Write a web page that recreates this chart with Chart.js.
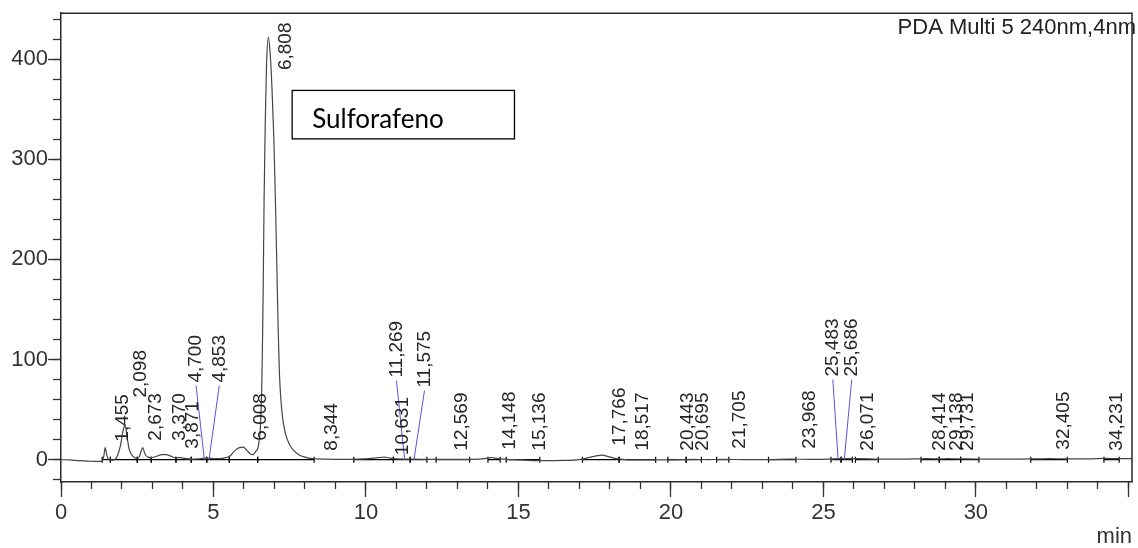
<!DOCTYPE html>
<html>
<head>
<meta charset="utf-8">
<script src="https://cdn.jsdelivr.net/npm/chart.js@4.4.1/dist/chart.umd.min.js"></script>
<style>
html, body { margin: 0; padding: 0; background: #fff; }
canvas { display: block; }
</style>
</head>
<body>
<canvas id="cromatograma" width="1138" height="548"></canvas>
<script>
// señal del detector PDA: [tiempo (min), mAU]
const trace = [
    [0, 0], [0.3, -0.3], [0.6, -1.0], [0.9, -1.5], [1.2, -1.8], [1.35, -1.5],
    [1.40, 3], [1.45, 12], [1.49, 6], [1.55, 0.5], [1.65, -0.5], [1.75, 0],
    [1.85, 4], [1.95, 14], [2.03, 28], [2.10, 35], [2.16, 24], [2.24, 10],
    [2.34, 4], [2.45, 1.5], [2.55, 2], [2.62, 8], [2.68, 12], [2.75, 6],
    [2.85, 2.5], [2.95, 2], [3.1, 3], [3.3, 5], [3.45, 5], [3.6, 3.5],
    [3.75, 2], [3.9, 2], [4.1, 1], [4.3, 0.5], [4.5, 0.8], [4.7, 1.5],
    [4.85, 1.5], [5.0, 1], [5.2, 1], [5.4, 2], [5.55, 4], [5.7, 9],
    [5.85, 12], [5.98, 12.5], [6.1, 9], [6.2, 6], [6.3, 5], [6.38, 8],
    [6.48, 15], [6.55, 40], [6.60, 100], [6.63, 170], [6.66, 260], [6.70, 340],
    [6.74, 395], [6.80, 422], [6.86, 405], [6.92, 370], [6.98, 320], [7.03, 260],
    [7.08, 190], [7.12, 132], [7.16, 88], [7.21, 60], [7.28, 39], [7.37, 25],
    [7.48, 16], [7.62, 9.5], [7.8, 5], [8.0, 2.5], [8.25, 1], [8.7, 0.5], [9.2, 0.3],
    [9.7, 0.5], [10.1, 1], [10.4, 2], [10.6, 2.5], [10.8, 1.5], [11.0, 0.8],
    [11.3, 0.6], [11.6, 0.5], [12.0, 0.3], [12.6, 0.2], [13.2, 0.3], [13.8, 0.8],
    [14.1, 2], [14.4, 0.8], [14.8, 0], [15.2, -0.5], [15.8, -1], [16.5, -0.8],
    [17.0, 0], [17.3, 2], [17.55, 3.8], [17.75, 4.5], [17.95, 3], [18.2, 1],
    [18.5, 0], [19.0, -0.3], [19.6, -0.3], [20.4, 0], [20.7, 0.3], [21.2, 0],
    [21.7, 0.3], [22.5, 0], [23.2, 0], [23.9, 0.5], [24.6, 0.3], [25.2, 0.5],
    [25.5, 1], [25.7, 1], [26.1, 1], [26.8, 0.6], [27.6, 0.5], [28.4, 1],
    [28.8, 0.8], [29.1, 1], [29.4, 0.8], [29.7, 0.8], [30.3, 0.5], [31.2, 0.5],
    [32.0, 0.8], [32.4, 1], [33.0, 0.8], [33.7, 0.8], [34.2, 1.2], [34.7, 1],
    [35.12, 1]
];

// líneas base de integración [inicio, fin] (min)
const integrationBaselines = [
    [1.35, 1.62], [1.62, 2.50], [2.50, 2.96], [2.96, 3.77], [3.77, 4.27],
    [4.27, 4.78], [4.78, 5.52], [5.52, 6.45], [6.45, 8.30], [9.6, 10.9],
    [10.9, 11.45], [11.45, 12.0], [12.3, 13.4], [14.0, 14.4], [14.6, 15.7],
    [17.1, 18.3], [18.3, 19.5], [19.9, 20.5], [20.5, 21.0], [21.5, 21.9],
    [23.2, 24.1], [25.25, 25.58], [25.58, 25.95], [26.05, 26.8], [28.2, 28.8],
    [28.8, 29.5], [29.5, 30.1], [31.8, 33.0], [34.2, 34.7]
];

const peakNames = ['1,455', '2,098', '2,673', '3,370', '3,871', '4,700', '4,853', '6,008',
    '6,808', '8,344', '10,631', '11,269', '11,575', '12,569', '14,148', '15,136',
    '17,766', '18,517', '20,443', '20,695', '21,705', '23,968', '25,483', '25,686',
    '26,071', '28,414', '29,138', '29,731', '32,405', '34,231'];
const peakTimes = [1.455, 2.098, 2.673, 3.370, 3.871, 4.700, 4.853, 6.008,
    6.808, 8.344, 10.631, 11.269, 11.575, 12.569, 14.148, 15.136,
    17.766, 18.517, 20.443, 20.695, 21.705, 23.968, 25.483, 25.686,
    26.071, 28.414, 29.138, 29.731, 32.405, 34.231];
// dónde se escribe cada etiqueta (min) y su base (mAU)
const labelTimes = [2.02, 2.63, 3.12, 3.88, 4.31, 4.43, 5.19, 6.56,
    7.36, 8.87, 11.21, 11.00, 11.92, 13.14, 14.71, 15.70,
    18.32, 19.09, 20.55, 21.05, 22.26, 24.55, 25.31, 25.93,
    26.46, 28.82, 29.37, 29.75, 32.87, 34.62];
const labelLevels = [18, 62, 19, 19, 11, 77, 77, 19,
    389, 9, 4.5, 82, 72, 9, 10, 9,
    14, 9, 9, 9, 11, 11, 83, 83,
    9, 9, 9, 9, 10, 9];
const leaderPeaks = ['4,700', '4,853', '11,269', '11,575', '25,483', '25,686'];

const xTickLabels = ['0', '5', '10', '15', '20', '25', '30'];
const yTickLabels = ['0', '100', '200', '300', '400'];

const FONT = '"Liberation Sans", Arial, sans-serif';
Chart.defaults.font.family = FONT;
Chart.defaults.color = '#333';

const baselinePoints = [];
integrationBaselines.forEach(([a, b]) => {
    baselinePoints.push({ x: a, y: 0 }, { x: b, y: 0 }, { x: b, y: null });
});

const chromPlugin = {
    id: 'chromPlugin',
    afterDatasetsDraw(chart) {
        const { ctx, scales: { x, y } } = chart;
        ctx.save();
        // líneas guía azules
        ctx.strokeStyle = '#5656d6';
        ctx.lineWidth = 1;
        peakNames.forEach((name, i) => {
            if (!leaderPeaks.includes(name)) return;
            ctx.beginPath();
            ctx.moveTo(x.getPixelForValue(labelTimes[i]), y.getPixelForValue(labelLevels[i]) + 3);
            ctx.lineTo(x.getPixelForValue(peakTimes[i]), y.getPixelForValue(0));
            ctx.stroke();
        });
        // etiquetas de tiempo de retención
        ctx.font = '19px ' + FONT;
        ctx.fillStyle = '#262626';
        ctx.textAlign = 'left';
        ctx.textBaseline = 'middle';
        peakNames.forEach((name, i) => {
            ctx.save();
            ctx.translate(x.getPixelForValue(labelTimes[i]), y.getPixelForValue(labelLevels[i]));
            ctx.rotate(-Math.PI / 2);
            ctx.fillText(name, 0, 0);
            ctx.restore();
        });
        ctx.restore();
    },
    afterDraw(chart) {
        const { ctx, chartArea: area, scales: { x, y } } = chart;
        ctx.save();
        // marco superior y derecho
        ctx.strokeStyle = '#2b2b2b';
        ctx.lineWidth = 1.5;
        ctx.beginPath();
        ctx.moveTo(area.left, area.top);
        ctx.lineTo(area.right, area.top);
        ctx.lineTo(area.right, area.bottom);
        ctx.stroke();

        ctx.font = '22px ' + FONT;
        ctx.fillStyle = '#222';
        ctx.textAlign = 'right';
        ctx.textBaseline = 'alphabetic';
        ctx.fillText('PDA Multi 5 240nm,4nm', area.right + 4, area.top + 21);

        // recuadro Sulforafeno
        const bx1 = x.getPixelForValue(7.58), bx2 = x.getPixelForValue(14.87);
        const by1 = y.getPixelForValue(368.7), by2 = y.getPixelForValue(320.3);
        ctx.strokeStyle = '#000';
        ctx.lineWidth = 1.3;
        ctx.strokeRect(bx1, by1, bx2 - bx1, by2 - by1);
        ctx.font = '26px Lato, "Open Sans", sans-serif';
        ctx.fillStyle = '#000';
        ctx.textAlign = 'left';
        ctx.fillText('Sulforafeno', bx1 + 20, by2 - 11);
        ctx.restore();
    }
};

new Chart(document.getElementById('cromatograma'), {
    type: 'line',
    data: {
        datasets: [
            {
                label: 'PDA',
                data: trace.map(([t, v]) => ({ x: t, y: v })),
                borderColor: '#454545',
                borderWidth: 1.2,
                pointRadius: 0,
                cubicInterpolationMode: 'monotone',
                xAxisID: 'x',
                yAxisID: 'y'
            },
            {
                label: 'Integración',
                data: baselinePoints,
                borderColor: '#000',
                borderWidth: 1.2,
                pointStyle: 'line',
                pointRotation: 90,
                pointRadius: 3,
                pointBorderColor: '#000',
                pointBorderWidth: 1.2,
                spanGaps: false,
                xAxisID: 'x',
                yAxisID: 'y'
            }
        ]
    },
    options: {
        responsive: false,
        animation: false,
        devicePixelRatio: 1,
        layout: { padding: { top: 8, right: 6, left: 0, bottom: 0 } },
        plugins: {
            legend: { display: false },
            tooltip: { enabled: false }
        },
        scales: {
            x: {
                type: 'linear',
                position: 'bottom',
                weight: 1,
                min: 0,
                max: 35.12,
                afterFit: (s) => { s.height = 66; },
                border: { display: true, color: '#2b2b2b', width: 1.5 },
                grid: { drawOnChartArea: false, drawTicks: true, tickLength: 15, tickColor: '#333', tickWidth: 1.3 },
                ticks: {
                    stepSize: 5,
                    includeBounds: false,
                    padding: 3,
                    maxRotation: 0,
                    autoSkip: false,
                    color: '#333',
                    font: { size: 22 },
                    callback: (v) => xTickLabels.includes(String(v)) ? String(v) : ''
                },
                title: {
                    display: true,
                    text: 'min',
                    align: 'end',
                    color: '#333',
                    font: { size: 22, lineHeight: 1 },
                    padding: { top: 0, bottom: 0 }
                }
            },
            xMinor: {
                type: 'linear',
                position: 'bottom',
                weight: 0,
                min: 0,
                max: 35.12,
                afterFit: (s) => { s.height = 0; },
                border: { display: false },
                grid: { drawOnChartArea: false, drawTicks: true, tickLength: 7, tickColor: '#333', tickWidth: 1.3 },
                ticks: { stepSize: 1, includeBounds: false, display: false }
            },
            y: {
                type: 'linear',
                position: 'left',
                weight: 1,
                min: -22.3,
                max: 445.8,
                afterFit: (s) => { s.width = 61; },
                border: { display: true, color: '#2b2b2b', width: 1.5 },
                grid: { drawOnChartArea: false, drawTicks: true, tickLength: 13, tickColor: '#333', tickWidth: 1.3 },
                ticks: {
                    stepSize: 100,
                    includeBounds: false,
                    padding: 0,
                    color: '#333',
                    font: { size: 22 },
                    callback: (v) => yTickLabels.includes(String(v)) ? String(v) : ''
                }
            },
            yMinor: {
                type: 'linear',
                position: 'left',
                weight: 0,
                min: -22.3,
                max: 445.8,
                afterFit: (s) => { s.width = 0; },
                border: { display: false },
                grid: { drawOnChartArea: false, drawTicks: true, tickLength: 8, tickColor: '#333', tickWidth: 1.3 },
                ticks: { stepSize: 20, includeBounds: false, display: false }
            }
        }
    },
    plugins: [chromPlugin]
});
</script>
</body>
</html>
